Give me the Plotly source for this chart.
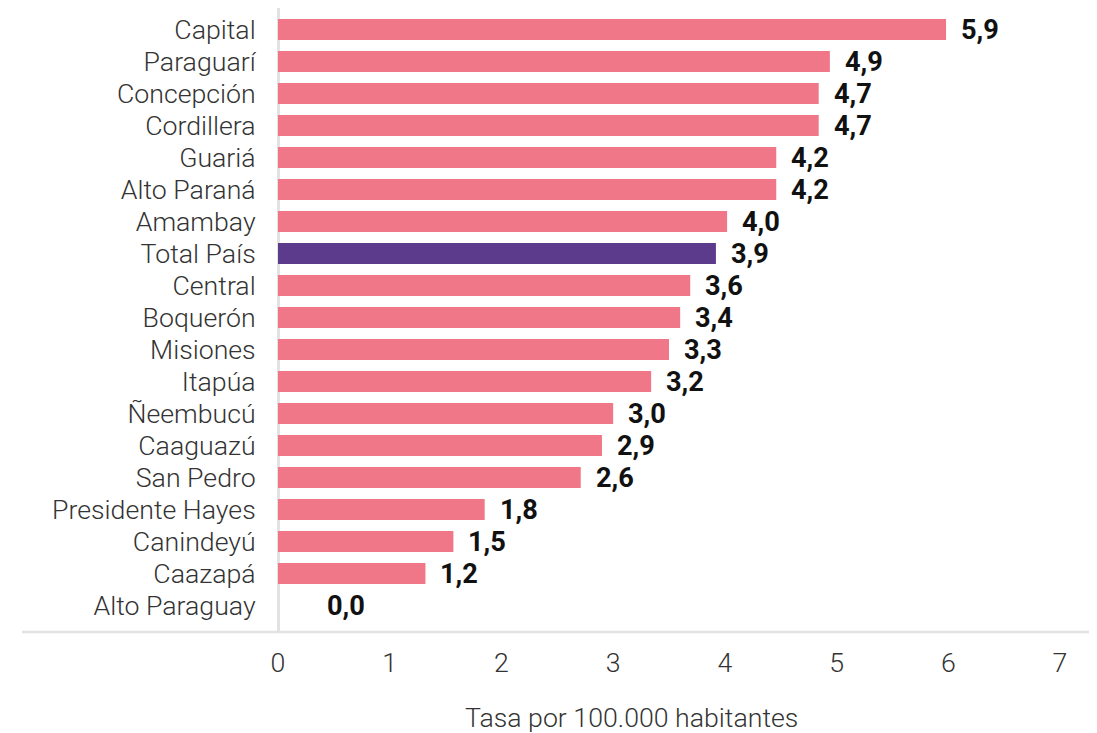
import plotly.graph_objects as go

categories = ["Capital", "Paraguarí", "Concepción", "Cordillera", "Guariá", "Alto Paraná",
              "Amambay", "Total País", "Central", "Boquerón", "Misiones", "Itapúa",
              "Ñeembucú", "Caaguazú", "San Pedro", "Presidente Hayes", "Canindeyú",
              "Caazapá", "Alto Paraguay"]
bar_values = [5.98, 4.94, 4.84, 4.84, 4.46, 4.46, 4.02, 3.92, 3.69, 3.60, 3.50, 3.34,
              3.00, 2.90, 2.71, 1.85, 1.57, 1.32, 0.0]
value_labels = ["5,9", "4,9", "4,7", "4,7", "4,2", "4,2", "4,0", "3,9", "3,6", "3,4", "3,3",
                "3,2", "3,0", "2,9", "2,6", "1,8", "1,5", "1,2", "0,0"]
x_ticks = [0, 1, 2, 3, 4, 5, 6, 7]
x_title = "Tasa por 100.000 habitantes"

PINK = "#EF7788"
PURPLE = "#5C3A8C"
colors = [PURPLE if c == "Total País" else PINK for c in categories]

FONT = "Roboto"
FS = 26.7

fig = go.Figure(go.Bar(
    x=bar_values, y=categories, orientation="h",
    marker=dict(color=colors, line=dict(width=0)),
    hoverinfo="skip",
))

for c, v, lab in zip(categories, bar_values, value_labels):
    fig.add_annotation(
        x=v, y=c, text=f"<b>{lab}</b>", showarrow=False,
        xanchor="left", yanchor="middle",
        xshift=13 if v > 0 else 47, yshift=-1,
        font=dict(family=FONT, size=27.2, color="#111111"),
    )

# page has an 8px body margin: figure sized/offset to compensate
OFF = 8
W, H = 1097 - OFF, 733 - OFF
L, R, T, B = 278 - OFF, 37, 0, 101
pw = W - L - R
ph = H - T - B

fig.add_annotation(
    xref="paper", yref="paper", x=(631 - OFF - L) / pw, y=-((718 - OFF) - (H - B)) / ph,
    text=x_title, showarrow=False, xanchor="center", yanchor="middle",
    font=dict(family=FONT, size=FS, color="#333333", weight=300),
)

fig.add_shape(type="line", xref="paper", yref="paper",
              x0=(22 - OFF - L) / pw, x1=(1090 - OFF - L) / pw, y0=0, y1=0,
              line=dict(color="#E2E2E2", width=2.5))

fig.update_layout(
    width=W, height=H,
    margin=dict(l=L, r=R, t=T, b=B, pad=0),
    paper_bgcolor="white", plot_bgcolor="white",
    bargap=0.34,
    showlegend=False,
    font=dict(family=FONT, size=FS, color="#333333", weight=300),
    xaxis=dict(
        range=[0, 7], tickvals=x_ticks, ticktext=[str(t) for t in x_ticks],
        showgrid=False, showline=False,
        zeroline=True, zerolinecolor="#E2E2E2", zerolinewidth=2.5,
        ticks="outside", ticklen=7, tickcolor="rgba(0,0,0,0)",
        tickfont=dict(family=FONT, size=FS, color="#333333", weight=300),
    ),
    yaxis=dict(
        type="category", categoryorder="array", categoryarray=categories,
        range=[18.83, -0.67],
        showgrid=False, showline=False, zeroline=False,
        ticks="outside", ticklen=16, tickcolor="rgba(0,0,0,0)",
        tickfont=dict(family=FONT, size=FS, color="#333333", weight=300),
    ),
)

fig.write_html("out.html")
